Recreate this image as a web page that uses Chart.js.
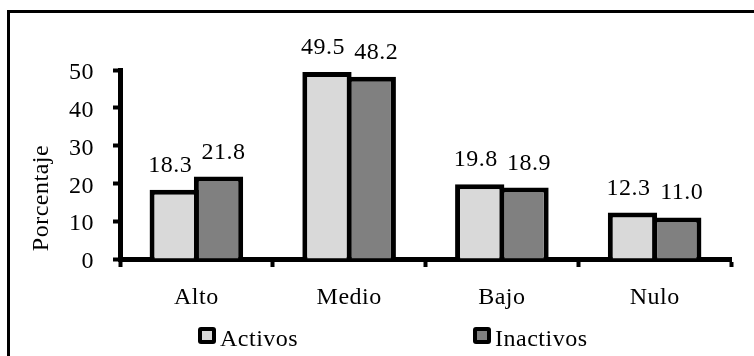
<!DOCTYPE html>
<html>
<head>
<meta charset="utf-8">
<script src="https://cdn.jsdelivr.net/npm/chart.js@4/dist/chart.umd.min.js"></script>
<style>
  html, body { margin: 0; padding: 0; background: #fff; }
  #wrap { width: 754px; height: 356px; position: relative; }
</style>
</head>
<body>
<div id="wrap"><canvas id="c" width="754" height="356"></canvas></div>
<script>
// Activity level categories and percentages per group
const categories = ['Alto', 'Medio', 'Bajo', 'Nulo'];
const activos = [18.3, 49.5, 19.8, 12.3];
const inactivos = [21.8, 48.2, 18.9, 11.0];
const seriesNames = ['Activos', 'Inactivos'];
const yTickValues = [0, 10, 20, 30, 40, 50];
const yTitle = 'Porcentaje';

const FONT = '"Liberation Serif", "Times New Roman", serif';
const FONT_SIZE = 24;
const SPACING = '0.5px';
const colors = ['#d9d9d9', '#808080'];
// horizontal nudge of value labels, per series (left series left, right series right)
const labelNudge = [-4, 5];

// Frame around the whole figure, letter spacing for all text
const framePlugin = {
  id: 'frame',
  beforeDraw(chart) {
    const ctx = chart.ctx;
    ctx.letterSpacing = SPACING;
    ctx.save();
    ctx.fillStyle = '#fff';
    ctx.fillRect(0, 0, chart.width, chart.height);
    ctx.strokeStyle = '#000';
    ctx.lineWidth = 3;
    ctx.strokeRect(8.5, 11.5, 900, 500);
    ctx.restore();
  }
};

// Value labels above bars, y title and legend
const annotatePlugin = {
  id: 'annotate',
  afterDraw(chart) {
    const ctx = chart.ctx;
    ctx.save();
    ctx.letterSpacing = SPACING;
    ctx.fillStyle = '#000';
    ctx.font = FONT_SIZE + 'px ' + FONT;
    ctx.textAlign = 'center';
    ctx.textBaseline = 'alphabetic';
    chart.data.datasets.forEach((ds, i) => {
      const meta = chart.getDatasetMeta(i);
      meta.data.forEach((el, j) => {
        ctx.fillText(ds.data[j].toFixed(1), el.x + labelNudge[i], el.y - 18);
      });
    });

    // rotated axis title
    ctx.save();
    ctx.translate(48, 198);
    ctx.rotate(-Math.PI / 2);
    ctx.textAlign = 'center';
    ctx.fillText(yTitle, 0, 0);
    ctx.restore();

    // legend
    const legendX = [198, 473];
    const boxY = 327;
    chart.data.datasets.forEach((ds, i) => {
      const x = legendX[i];
      ctx.fillStyle = '#000';
      ctx.beginPath();
      ctx.roundRect(x, boxY, 18, 17, 3);
      ctx.fill();
      ctx.fillStyle = ds.backgroundColor;
      ctx.fillRect(x + 4, boxY + 4, 10, 9);
      ctx.fillStyle = '#000';
      ctx.textAlign = 'left';
      ctx.fillText(ds.label, x + 22, 346);
    });
    ctx.restore();
  }
};

// adjacent bars overlap by exactly one border width so they share a single edge
const barOpts = {
  borderColor: '#000',
  borderWidth: 5,
  borderSkipped: 'bottom',
  categoryPercentage: 0.58,
  barPercentage: 1.113
};

new Chart(document.getElementById('c'), {
  type: 'bar',
  data: {
    labels: categories,
    datasets: [
      Object.assign({ label: seriesNames[0], data: activos, backgroundColor: colors[0] }, barOpts),
      Object.assign({ label: seriesNames[1], data: inactivos, backgroundColor: colors[1] }, barOpts)
    ]
  },
  options: {
    responsive: false,
    animation: false,
    devicePixelRatio: 1,
    layout: { padding: { top: 70, right: 23, bottom: 0, left: 0 } },
    plugins: {
      legend: { display: false },
      tooltip: { enabled: false }
    },
    scales: {
      x: {
        z: 1,
        offset: true,
        grid: {
          offset: true,
          drawOnChartArea: false,
          drawTicks: true,
          tickLength: 8,
          tickWidth: 4,
          tickColor: '#000'
        },
        border: { display: true, color: '#000', width: 5 },
        ticks: {
          color: '#000',
          font: { family: FONT, size: FONT_SIZE },
          padding: 16,
          maxRotation: 0
        },
        afterFit(scale) { scale.height = 97; }
      },
      y: {
        z: 1,
        min: 0,
        max: 50,
        afterBuildTicks(scale) { scale.ticks = yTickValues.map(v => ({ value: v })); },
        grid: {
          drawOnChartArea: false,
          drawTicks: true,
          tickLength: 7,
          tickWidth: 4,
          tickColor: '#000'
        },
        border: { display: true, color: '#000', width: 5 },
        ticks: {
          color: '#000',
          font: { family: FONT, size: FONT_SIZE },
          padding: 19,
          labelOffset: 3
        },
        afterFit(scale) { scale.width = 120; }
      }
    }
  },
  plugins: [framePlugin, annotatePlugin]
});
</script>
</body>
</html>
